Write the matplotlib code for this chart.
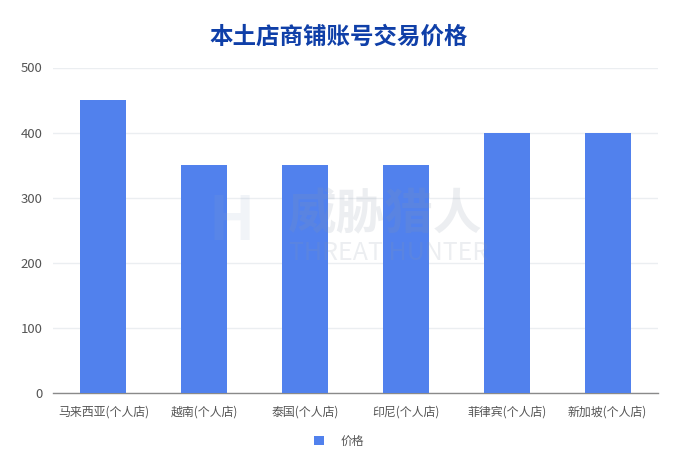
import matplotlib
matplotlib.use("Agg")
import matplotlib.pyplot as plt

plt.rcParams['font.family'] = ['Noto Sans CJK SC', 'DejaVu Sans']

categories = ['马来西亚(个人店)', '越南(个人店)', '泰国(个人店)', '印尼(个人店)', '菲律宾(个人店)', '新加坡(个人店)']
prices = [450, 350, 350, 350, 400, 400]
yticks = [0, 100, 200, 300, 400, 500]
series_name = '价格'
title = '本土店商铺账号交易价格'

W, H = 685, 455
fig = plt.figure(figsize=(W / 100, H / 100), dpi=100)
ax = fig.add_axes([53 / W, 1 - 393 / H, 605 / W, 325.5 / H])

bars = ax.bar(range(len(categories)), prices, width=0.457, color='#5181ED', label=series_name, zorder=3)
ax.set_xlim(-0.5, len(categories) - 0.5)
ax.set_ylim(0, 500)
ax.set_yticks(yticks)
ax.set_xticks(range(len(categories)))
ax.set_xticklabels(categories, fontsize=8.6, color='#555555')
ax.tick_params(axis='x', length=0, pad=9)
ax.tick_params(axis='y', length=0, pad=7.5, labelsize=9.5, labelcolor='#555555')
ax.grid(axis='y', color='#EBEEF1', linewidth=1, zorder=0)
ax.set_axisbelow(True)
for s in ['top', 'left', 'right']:
    ax.spines[s].set_visible(False)
ax.spines['bottom'].set_color('#8A8A8A')
ax.spines['bottom'].set_linewidth(1)

fig.text(338.5 / W, 1 - 37 / H, title, ha='center', va='center', fontsize=16.9, fontweight='bold', color='#0F3FA8')

# faint watermark
fig.text(385 / W, 1 - 215 / H, '威胁猎人', ha='center', va='center', fontsize=35, fontweight='bold', color='#8A97A8', alpha=0.16, zorder=10)
fig.text(389 / W, 1 - 253 / H, 'THREAT HUNTER', ha='center', va='center', fontsize=18, color='#8A97A8', alpha=0.16, zorder=10)
fig.text(232 / W, 1 - 222 / H, 'H', ha='center', va='center', fontsize=44, fontweight='bold', color='#8FA6C8', alpha=0.12, zorder=10)

leg = fig.legend(handles=[bars], labels=[series_name], loc='center', bbox_to_anchor=(339 / W, 1 - 441 / H),
                 frameon=False, fontsize=8.5, handlelength=0.9, handleheight=0.9, handletextpad=1.4, labelcolor='#555555')

fig.savefig('out.png', dpi=100)
